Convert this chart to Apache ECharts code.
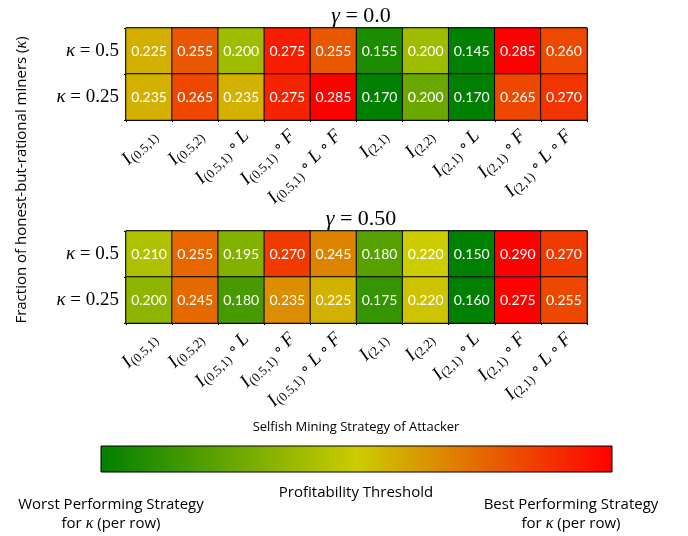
<!DOCTYPE html>
<html>
<head>
<meta charset="utf-8">
<script src="https://cdn.jsdelivr.net/npm/echarts@6/dist/echarts.min.js"></script>
<style>
  html, body { margin: 0; padding: 0; background: #fff; }
  #chart { width: 688px; height: 536px; }
</style>
</head>
<body>
<div id="chart"></div>
<script>
// Attacker strategies (x axis, left to right)
const strategies = [
  'I(0.5,1)', 'I(0.5,2)', 'I(0.5,1) ∘ L', 'I(0.5,1) ∘ F', 'I(0.5,1) ∘ L ∘ F',
  'I(2,1)', 'I(2,2)', 'I(2,1) ∘ L', 'I(2,1) ∘ F', 'I(2,1) ∘ L ∘ F'
];
// Rows, top to bottom
const kappaLabels = ['0.5', '0.25'];
const gammaTitles = ['0.0', '0.50'];

// Profitability thresholds, gamma = 0.0
const gamma00_kappa050 = [0.225, 0.255, 0.200, 0.275, 0.255, 0.155, 0.200, 0.145, 0.285, 0.260];
const gamma00_kappa025 = [0.235, 0.265, 0.235, 0.275, 0.285, 0.170, 0.200, 0.170, 0.265, 0.270];
// Profitability thresholds, gamma = 0.50
const gamma50_kappa050 = [0.210, 0.255, 0.195, 0.270, 0.245, 0.180, 0.220, 0.150, 0.290, 0.270];
const gamma50_kappa025 = [0.200, 0.245, 0.180, 0.235, 0.225, 0.175, 0.220, 0.160, 0.275, 0.255];

const cmap = ['#008000', '#cccc00', '#ff0000'];
const SERIF = 'Liberation Serif';
const SANS = 'Open Sans';
const NUM = 'Lato';

// Each row is coloured relative to its own min/max (4th dimension = normalised value)
function rowData(values, rowIndex) {
  const lo = Math.min(...values), hi = Math.max(...values);
  return values.map((v, i) => [i, rowIndex, v, (v - lo) / (hi - lo)]);
}

function strategyLabel(s) {
  const m = s.match(/^I(\([^)]*\))(.*)$/);
  const rest = m[2].replace(/∘/g, '{o|∘}').replace(/([LF])/g, '{l|$1}').replace(/ /g, '{sp| }');
  return '{i|I}{s|' + m[1] + '}' + rest;
}

const xRich = {
  i: { fontFamily: SERIF, fontSize: 19, fontStyle: 'italic', color: '#000' },
  s: { fontFamily: SERIF, fontSize: 13, color: '#000', padding: [9, 0, 0, 0] },
  o: { fontFamily: 'DejaVu Sans', fontSize: 15, color: '#000' },
  l: { fontFamily: SERIF, fontSize: 19, fontStyle: 'italic', color: '#000' },
  sp: { fontFamily: SERIF, fontSize: 14, color: '#000' }
};
const yRich = {
  k: { fontFamily: SERIF, fontSize: 19, fontStyle: 'italic', color: '#000' },
  t: { fontFamily: SERIF, fontSize: 19, color: '#000' }
};
const noteRich = {
  n: { fontFamily: SANS, fontSize: 15, color: '#000', lineHeight: 19 },
  k: { fontFamily: SERIF, fontSize: 16, fontStyle: 'italic', color: '#000', lineHeight: 19 }
};

const gridTops = [28, 231];
const PLOT_LEFT = 126, PLOT_W = 461, PLOT_H = 92;
// Heatmap grids (0, 1) and label-only grids (2, 3) nudged right for the rotated tick labels
const grids = gridTops.map(top => ({
  left: PLOT_LEFT, top: top, width: PLOT_W, height: PLOT_H,
  show: true, borderColor: '#000', borderWidth: 1
})).concat(gridTops.map(top => ({
  left: PLOT_LEFT + 5, top: top, width: PLOT_W, height: PLOT_H, show: false
})));

const xAxes = [], yAxes = [];
gridTops.forEach((_, g) => {
  xAxes.push({
    type: 'category', gridIndex: g, data: strategies, position: 'bottom',
    axisLine: { lineStyle: { color: '#000', width: 1 } },
    axisTick: { alignWithLabel: true, length: 4, lineStyle: { color: '#000' } },
    axisLabel: { show: false },
    splitLine: { show: false }
  });
  xAxes.push({
    type: 'value', gridIndex: g, min: 0, max: 10, interval: 1, position: 'bottom',
    axisLine: { show: false },
    axisTick: { show: true, length: 2, lineStyle: { color: '#000' } },
    axisLabel: { show: false }, splitLine: { show: false }
  });
  yAxes.push({
    type: 'category', gridIndex: g, data: kappaLabels, inverse: true, position: 'left',
    axisLine: { lineStyle: { color: '#000', width: 1 } },
    axisTick: { alignWithLabel: true, length: 4, lineStyle: { color: '#000' } },
    axisLabel: {
      margin: 7,
      formatter: v => '{k|κ}{t| = ' + v + '}', rich: yRich
    },
    splitLine: { show: false }
  });
  yAxes.push({
    type: 'value', gridIndex: g, min: 0, max: 2, interval: 1, position: 'left',
    axisLine: { show: false },
    axisTick: { show: true, length: 2, lineStyle: { color: '#000' } },
    axisLabel: { show: false }, splitLine: { show: false }
  });
});
gridTops.forEach((_, g) => {
  xAxes.push({
    type: 'category', gridIndex: g + 2, data: strategies, position: 'bottom',
    axisLine: { show: false }, axisTick: { show: false },
    axisLabel: {
      rotate: 45, margin: 13, interval: 0,
      formatter: strategyLabel, rich: xRich
    },
    splitLine: { show: false }
  });
  yAxes.push({
    type: 'category', gridIndex: g + 2, data: kappaLabels, show: false
  });
});

const panels = [
  [gamma00_kappa050, gamma00_kappa025],
  [gamma50_kappa050, gamma50_kappa025]
];

const series = panels.map((rows, g) => ({
  type: 'heatmap',
  xAxisIndex: g * 2, yAxisIndex: g * 2,
  data: rows.flatMap((vals, r) => rowData(vals, r)),
  encode: { x: 0, y: 1 },
  itemStyle: { borderColor: '#000', borderWidth: 1 },
  label: {
    show: true, color: '#fff', fontFamily: NUM, fontSize: 14,
    formatter: p => p.value[2].toFixed(3)
  },
  emphasis: { disabled: true }
}));

const chart = echarts.init(document.getElementById('chart'), null, { renderer: 'canvas' });
chart.setOption({
  animation: false,
  backgroundColor: '#fff',
  title: gammaTitles.map((gv, g) => ({
    text: '{g|γ}{t| = ' + gv + '}',
    left: 356, top: gridTops[g] - 28, textAlign: 'center',
    textStyle: {
      rich: {
        g: { fontFamily: SERIF, fontSize: 22, fontStyle: 'italic', fontWeight: 'normal', color: '#000' },
        t: { fontFamily: SERIF, fontSize: 22, fontWeight: 'normal', color: '#000' }
      }
    }
  })),
  grid: grids,
  xAxis: xAxes,
  yAxis: yAxes,
  visualMap: {
    type: 'continuous', show: false, dimension: 3, min: 0, max: 1,
    seriesIndex: [0, 1], inRange: { color: cmap }
  },
  series: series,
  graphic: [
    {
      type: 'text', x: 22, y: 180, rotation: Math.PI / 2,
      style: {
        text: '{n|Fraction of honest-but-rational miners (}{k|κ}{n|)}', rich: noteRich,
        align: 'center', verticalAlign: 'middle'
      }
    },
    {
      type: 'text', x: 356, y: 427,
      style: {
        text: 'Selfish Mining Strategy of Attacker',
        fontFamily: SANS, fontSize: 13, fill: '#000', align: 'center', verticalAlign: 'middle'
      }
    },
    {
      type: 'rect', shape: { x: 101, y: 446, width: 511, height: 26 },
      style: {
        fill: new echarts.graphic.LinearGradient(0, 0, 1, 0, [
          { offset: 0, color: cmap[0] }, { offset: 0.5, color: cmap[1] }, { offset: 1, color: cmap[2] }
        ]),
        stroke: '#000', lineWidth: 1
      }
    },
    {
      type: 'text', x: 356, y: 493,
      style: {
        text: 'Profitability Threshold', fontFamily: SANS, fontSize: 15,
        fill: '#000', align: 'center', verticalAlign: 'middle'
      }
    },
    {
      type: 'text', x: 111, y: 514,
      style: {
        text: '{n|Worst Performing Strategy}\n{n|for }{k|κ}{n| (per row)}', rich: noteRich,
        align: 'center', verticalAlign: 'middle'
      }
    },
    {
      type: 'text', x: 571, y: 514,
      style: {
        text: '{n|Best Performing Strategy}\n{n|for }{k|κ}{n| (per row)}', rich: noteRich,
        align: 'center', verticalAlign: 'middle'
      }
    }
  ]
});
</script>
</body>
</html>
